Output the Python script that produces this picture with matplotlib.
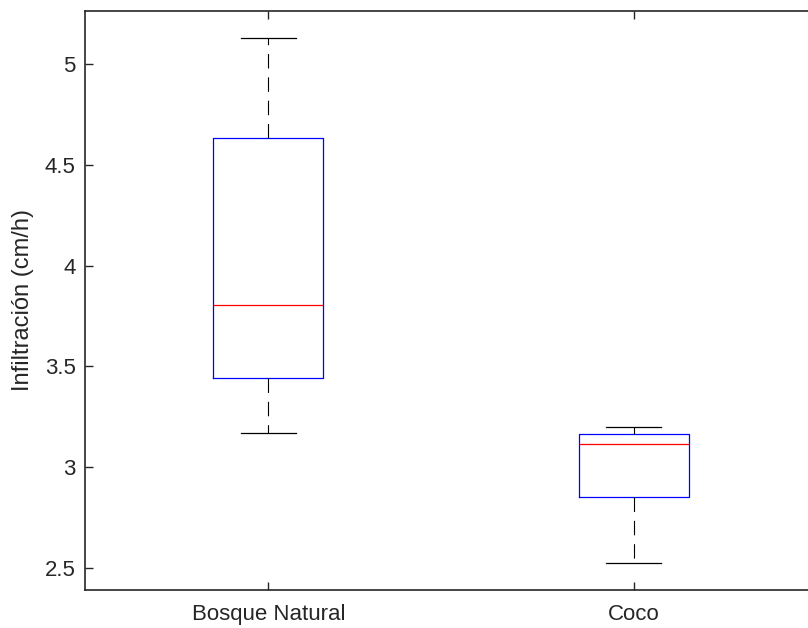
import matplotlib
matplotlib.use("Agg")
import matplotlib.pyplot as plt

## datos
grupos = ["Bosque Natural", "Coco"]
mediana = [3.805, 3.115]
q1 = [3.442, 2.852]
q3 = [4.633, 3.165]
bigote_bajo = [3.170, 2.525]
bigote_alto = [5.129, 3.199]

plt.rcParams['font.family'] = ['Liberation Sans', 'DejaVu Sans']
gris = '#262626'

fig = plt.figure(figsize=(8.08, 6.28), dpi=100)
ax = fig.add_axes([0.1058, 0.0605, 0.905, 0.922])

stats = []
for i in range(len(grupos)):
    stats.append(dict(med=mediana[i], q1=q1[i], q3=q3[i],
                      whislo=bigote_bajo[i], whishi=bigote_alto[i],
                      fliers=[], label=grupos[i]))

ax.bxp(stats, positions=[1, 2], widths=0.3, capwidths=0.15, showfliers=False,
       boxprops=dict(color='blue', linewidth=0.9),
       medianprops=dict(color='red', linewidth=0.9),
       whiskerprops=dict(color='black', linewidth=0.8, linestyle=(0, (13, 8))),
       capprops=dict(color='black', linewidth=0.9))

ax.set_xlim(0.5, 2.5)
ax.set_ylim(2.391, 5.263)
ax.set_yticks([2.5, 3, 3.5, 4, 4.5, 5])
ax.set_yticklabels(['2.5', '3', '3.5', '4', '4.5', '5'])
ax.set_xticks([1, 2])
ax.set_xticklabels(grupos)
ax.tick_params(direction='in', length=6, width=1.0, top=True, right=True,
               labelsize=16, colors=gris)
ax.tick_params(axis='y', pad=7)
ax.tick_params(axis='x', pad=10)
for s in ax.spines.values():
    s.set_color(gris)
    s.set_linewidth(1.2)
ax.set_ylabel('Infiltración (cm/h)', fontsize=17, color=gris, labelpad=8)

fig.savefig('out.png', dpi=100)
